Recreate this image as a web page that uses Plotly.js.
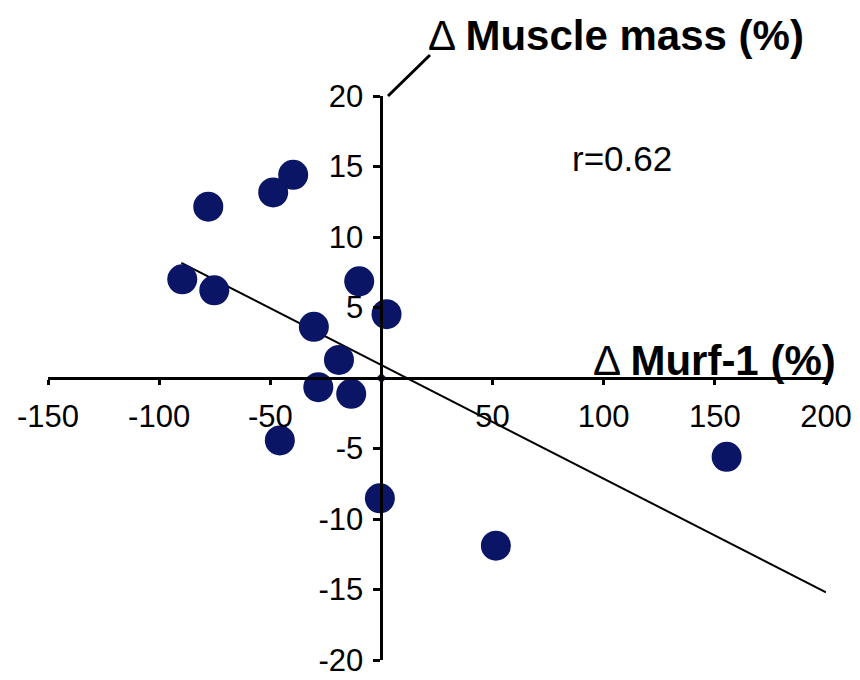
<!DOCTYPE html>
<html>
<head>
<meta charset="utf-8">
<script src="https://cdn.plot.ly/plotly-3.0.1.min.js"></script>
<style>html,body{margin:0;padding:0;background:#fff;}</style>
</head>
<body>
<div id="chart" style="width:860px;height:680px;"></div>
<script>
// Δ Murf-1 (%) vs Δ Muscle mass (%)
const murfChange = [-77.9, -48.7, -39.7, -89.6, -75.2, -10.0, 2.3, -30.4, -19.1, -28.4, -13.6, -45.7, -0.7, 51.5, 155.3];
const muscleChange = [12.15, 13.16, 14.41, 7.0, 6.22, 6.86, 4.53, 3.63, 1.28, -0.65, -1.12, -4.43, -8.53, -11.89, -5.59];
const originX = [0];
const originY = [0];
const trendX = [-90, 200];
const trendY = [8.17, -15.2];
const xTickVals = [-150, -100, -50, 50, 100, 150, 200];
const xTickText = ['-150', '-100', '-50', '50', '100', '150', '200'];
const yTickVals = [-20, -15, -10, -5, 5, 10, 15, 20];
const yTickText = ['-20', '-15', '-10', '-5', '5', '10', '15', '20'];

const navy = '#0b1566';
const font = 'Arial, "Liberation Sans", sans-serif';
const plotTop = 96, plotBottom = 660;
const plotH = plotBottom - plotTop;

const traces = [
  {x: trendX, y: trendY, mode: 'lines', type: 'scatter',
   line: {color: '#000', width: 2}, hoverinfo: 'skip'},
  {x: murfChange, y: muscleChange, mode: 'markers', type: 'scatter',
   marker: {color: navy, size: 30, line: {width: 0}}},
  {x: originX, y: originY, mode: 'markers', type: 'scatter',
   marker: {color: navy, size: 8, symbol: 'diamond'}, cliponaxis: false}
];

const layout = {
  width: 860, height: 680,
  margin: {l: 48, r: 34, t: plotTop, b: 680 - plotBottom},
  paper_bgcolor: '#fff', plot_bgcolor: '#fff',
  showlegend: false,
  font: {family: font, color: '#000', size: 31},
  title: {text: 'Δ <b>Muscle mass (%)</b>', x: 428/860, xanchor: 'left', xref: 'container',
          y: 1 - 35/680, yanchor: 'middle', yref: 'container',
          font: {family: font, size: 42, color: '#000'}},
  xaxis: {
    range: [-150, 200], anchor: 'free', position: 0.5,
    showgrid: false, zeroline: false, showline: true, linecolor: '#000', linewidth: 3,
    ticks: 'outside', ticklen: 5, tickwidth: 3, tickcolor: '#000',
    tickmode: 'array', tickvals: xTickVals, ticktext: xTickText,
    ticklabelstandoff: 5, ticklabeloverflow: 'allow',
    tickfont: {family: font, size: 31, color: '#000'}
  },
  yaxis: {
    range: [-20, 20], anchor: 'free', position: 150/350,
    showgrid: false, zeroline: false, showline: true, linecolor: '#000', linewidth: 3,
    ticks: 'outside', ticklen: 7, tickwidth: 3, tickcolor: '#000',
    tickmode: 'array', tickvals: yTickVals, ticktext: yTickText,
    ticklabelstandoff: 4, ticklabeloverflow: 'allow',
    tickfont: {family: font, size: 31, color: '#000'}
  },
  shapes: [
    {type: 'line', xref: 'paper', yref: 'paper',
     x0: (388-48)/778, y0: 1.0, x1: (430-48)/778, y1: (plotBottom-55)/plotH,
     line: {color: '#000', width: 3}}
  ],
  annotations: [
    {text: 'Δ <b>Murf-1 (%)</b>', xref: 'paper', yref: 'paper',
     x: (838-48)/778, xanchor: 'right', y: (plotBottom-360)/plotH, yanchor: 'middle',
     showarrow: false, font: {family: font, size: 42, color: '#000'}},
    {text: 'r=0.62', xref: 'paper', yref: 'paper',
     x: (570-48)/778, xanchor: 'left', y: (plotBottom-158)/plotH, yanchor: 'middle',
     showarrow: false, font: {family: font, size: 35, color: '#000'}}
  ]
};

Plotly.newPlot('chart', traces, layout, {displayModeBar: false, staticPlot: true});
</script>
</body>
</html>
